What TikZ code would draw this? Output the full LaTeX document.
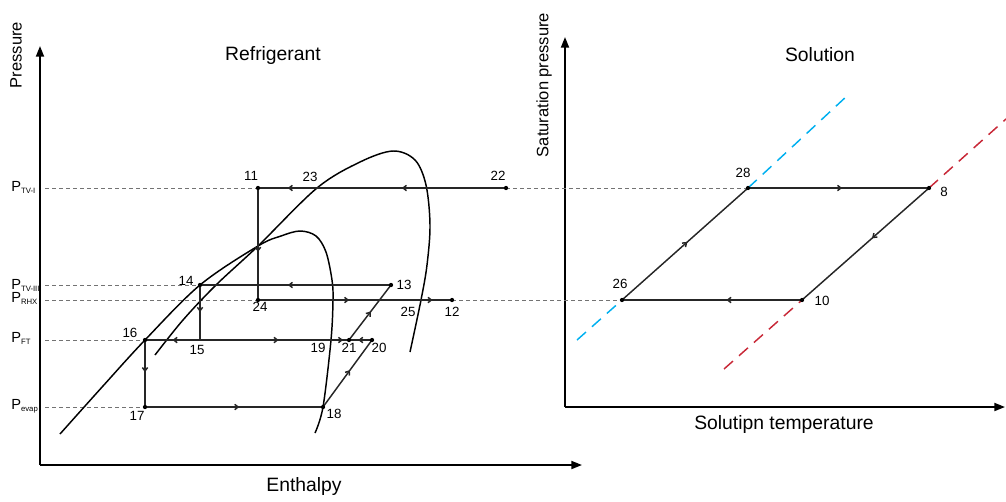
\documentclass[tikz,border=0pt]{standalone}
\usepackage{fontspec}
\setmainfont{Liberation Sans}
\usetikzlibrary{arrows.meta,decorations.markings}
\definecolor{satblue}{RGB}{0,176,240}
\definecolor{satred}{RGB}{200,40,55}
\tikzset{
  dot/.style={circle,fill=black,inner sep=0pt,minimum size=3.2pt},
  lbl/.style={font=\fontsize{10}{12}\selectfont,inner sep=0pt},
  title/.style={font=\fontsize{14.5}{17}\selectfont,inner sep=0pt},
  axtitle/.style={font=\fontsize{12.4}{15}\selectfont,inner sep=0pt},
  plev/.style={font=\fontsize{11}{13}\selectfont,inner sep=0pt,anchor=base west},
  cyc/.style={line width=1.1pt,draw=black!85},
  axisline/.style={line width=1.4pt,-{Triangle[length=8pt,width=6pt]}},
  lev/.style={dash pattern=on 3pt off 2.25pt,draw=black!55,line width=0.75pt},
  curveline/.style={line width=1.1pt},
  satline/.style={line width=1.1pt,dash pattern=on 9pt off 6pt},
  arrat/.style={postaction={decorate,decoration={markings,mark=at position #1 with {\arrow{Straight Barb[length=2.6pt,width=4pt]}}}}},
}
\newcommand{\psub}[1]{P\raisebox{-2.2pt}{\fontsize{5.8}{6}\selectfont #1}}
\begin{document}
\begin{tikzpicture}[x=0.75pt,y=-0.75pt]
\useasboundingbox (0,0) rectangle (1006,501);

% axes
\coordinate (oL) at (40,465);
\coordinate (yL) at (40,46);
\coordinate (xL) at (582,465);
\coordinate (oR) at (565,407);
\coordinate (yR) at (565,37);
\coordinate (xR) at (1005,407);
\draw[axisline] (oL) -- (yL);
\draw[axisline] (oL) -- (xL);
\draw[axisline] (oR) -- (yR);
\draw[axisline] (oR) -- (xR);

\node[axtitle,rotate=90] (tp) at (16,55) {Pressure};
\node[axtitle,rotate=90] (tsp) at (544,85) {Saturation pressure};
\node[title] (tref) at (273,55) {Refrigerant};
\node[title] (tsol) at (820,55) {Solution};
\node[title] (tent) at (304,486) {Enthalpy};
\node[title] (tst) at (784,424) {Solutipn temperature};

% state points
\coordinate (p11) at (258,188);
\coordinate (p22) at (506,188);
\coordinate (p14) at (200,285);
\coordinate (p13) at (391,285);
\coordinate (p24) at (258,300);
\coordinate (p12) at (452,300);
\coordinate (p16) at (145,340);
\coordinate (p15) at (200,340);
\coordinate (p19) at (331,340);
\coordinate (p21) at (349,340);
\coordinate (p20) at (372,340);
\coordinate (p17) at (145,407);
\coordinate (p18) at (323,407);
\coordinate (p28) at (748,188);
\coordinate (p8) at (929,188);
\coordinate (p26) at (622,300);
\coordinate (p10) at (802,300);

% level line starts
\coordinate (lTVI) at (45,188);
\coordinate (lTVIII) at (45,285);
\coordinate (lRHX) at (45,300);
\coordinate (lFT) at (45,340);
\coordinate (lEV) at (45,407);

% dashed pressure levels
\draw[lev] (lTVI) -- (p11);
\draw[lev] (p22) -- (p28);
\draw[lev] (lTVIII) -- (p14);
\draw[lev] (lRHX) -- (p24);
\draw[lev] (p12) -- (p26);
\draw[lev] (lFT) -- (p16);
\draw[lev] (lEV) -- (p17);

% pressure labels
\node[plev] (PTVI) at (11,191) {\psub{TV-I}};
\node[plev] (PTVIII) at (11,289) {\psub{TV-III}};
\node[plev] (PRHX) at (11,302) {\psub{RHX}};
\node[plev] (PFT) at (11,342) {\psub{FT}};
\node[plev] (PEV) at (11,409) {\psub{evap}};

% saturation curves
\draw[curveline] plot[smooth,tension=0.55] coordinates {(60,434) (103,386) (145,340) (200,285) (258,246) (281,236) (300,231) (316,236) (326,252) (332,280) (333,300) (331,340) (323,407) (315,433)};
\draw[curveline] plot[smooth,tension=0.55] coordinates {(155,355) (183,320) (216,285) (258,246) (317,188) (360,162) (393,151) (415,160) (426,185) (430,225) (427,265) (421,300) (410,352)};

% refrigerant cycle
\draw[cyc,arrat=0.42,arrat=0.88] (p22) -- (p11);
\draw[cyc,arrat=0.57] (p11) -- (p24);
\draw[cyc,arrat=0.47,arrat=0.9] (p24) -- (p12);
\draw[cyc,arrat=0.54] (p13) -- (p14);
\draw[cyc,arrat=0.49] (p14) -- (p15);
\draw[cyc,arrat=0.5] (p15) -- (p16);
\draw[cyc,arrat=0.6] (p15) -- (p19);
\draw[cyc,arrat=0.67] (p19) -- (p21);
\draw[cyc,arrat=0.6] (p20) -- (p21);
\draw[cyc,arrat=0.48] (p16) -- (p17);
\draw[cyc,arrat=0.53] (p17) -- (p18);
\draw[cyc,arrat=0.55] (p18) -- (p20);
\draw[cyc,arrat=0.52] (p21) -- (p13);

% solution lines
\coordinate (b1) at (577,340);
\coordinate (b2) at (848,95);
\coordinate (r1) at (724,369);
\coordinate (r2) at (1006,119);
\draw[satline,satblue] (b1) -- (p26);
\draw[satline,satblue] (p28) -- (b2);
\draw[satline,satred] (r1) -- (p10);
\draw[satline,satred] (p8) -- (r2);

\draw[cyc,arrat=0.52] (p28) -- (p8);
\draw[cyc,arrat=0.45] (p8) -- (p10);
\draw[cyc,arrat=0.42] (p10) -- (p26);
\draw[cyc,arrat=0.52] (p26) -- (p28);

% dots
\foreach \p in {p11,p22,p14,p13,p24,p12,p16,p21,p20,p17,p18,p28,p8,p26,p10}
  \node[dot] at (\p) {};

% number labels
\node[lbl] (n11) at (251,176) {11};
\node[lbl] (n22) at (498,176) {22};
\node[lbl] (n23) at (310,177) {23};
\node[lbl] (n14) at (186,281) {14};
\node[lbl] (n13) at (404,285) {13};
\node[lbl] (n24) at (260,307) {24};
\node[lbl] (n12) at (452,312) {12};
\node[lbl] (n25) at (408,312) {25};
\node[lbl] (n16) at (130,333) {16};
\node[lbl] (n15) at (197,350) {15};
\node[lbl] (n19) at (318,348) {19};
\node[lbl] (n21) at (349,348) {21};
\node[lbl] (n20) at (379,348) {20};
\node[lbl] (n17) at (137,416) {17};
\node[lbl] (n18) at (334,414) {18};
\node[lbl] (n28) at (743,173) {28};
\node[lbl] (n8) at (944,192) {8};
\node[lbl] (n26) at (620,284) {26};
\node[lbl] (n10) at (822,301) {10};
\end{tikzpicture}
\end{document}
